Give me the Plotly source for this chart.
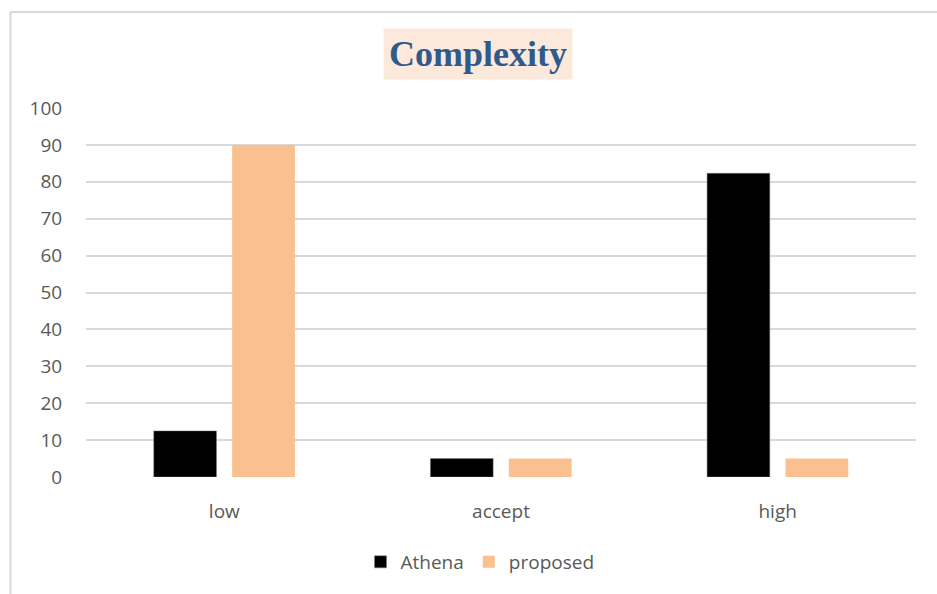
import plotly.graph_objects as go

categories = ["low", "accept", "high"]
athena = [12.5, 5, 82.3]
proposed = [90, 5, 5]
y_ticks = [0, 10, 20, 30, 40, 50, 60, 70, 80, 90, 100]

W, H = 937, 594
L, R, T, B = 86, 21, 108, 117

fig = go.Figure()
fig.add_trace(go.Bar(x=categories, y=athena, name="Athena",
                     marker=dict(color="#000000", line=dict(color="#7f7f7f", width=0.5))))
fig.add_trace(go.Bar(x=categories, y=proposed, name="proposed",
                     marker=dict(color="#FAC090", line=dict(width=0))))

pw = W - L - R
ph = H - T - B
def px_x(px):
    return (px - L) / pw
def px_y(py):
    return (H - B - py) / ph

fig.update_layout(
    width=W, height=H,
    margin=dict(l=L, r=R, t=T, b=B),
    paper_bgcolor="white", plot_bgcolor="white",
    barmode="group", bargap=0.433, bargroupgap=0.2,
    font=dict(family="Open Sans, Liberation Sans, sans-serif", size=19, color="#595959"),
    showlegend=True,
    legend=dict(orientation="h", x=px_x(480), xanchor="center", y=px_y(562), yanchor="middle",
                font=dict(size=19, color="#595959"), itemwidth=30, traceorder="normal",
                tracegroupgap=0),
    xaxis=dict(showgrid=False, zeroline=False, showline=False, ticks="outside", ticklen=17,
               tickcolor="rgba(0,0,0,0)", tickfont=dict(size=19, color="#595959")),
    yaxis=dict(range=[0, 100], tickvals=y_ticks, showgrid=True, gridcolor="#D9D9D9", gridwidth=2,
               zeroline=False, showline=False, ticks="outside", ticklen=19,
               tickcolor="rgba(0,0,0,0)", tickfont=dict(size=19, color="#595959")),
    annotations=[dict(text="<b>Complexity</b>", x=px_x(478), y=px_y(54), xref="paper", yref="paper",
                      xanchor="center", yanchor="middle", showarrow=False,
                      font=dict(family="Liberation Serif, Times New Roman, serif", size=36, color="#2F5B8C"),
                      bgcolor="#FCE9DC", borderpad=5)],
    shapes=[
        dict(type="line", xref="paper", yref="paper", x0=px_x(10.5), x1=px_x(10.5), y0=px_y(600), y1=px_y(12),
             line=dict(color="#D9D9D9", width=2)),
        dict(type="line", xref="paper", yref="paper", x0=px_x(10.5), x1=px_x(945), y0=px_y(12), y1=px_y(12),
             line=dict(color="#D9D9D9", width=2)),
    ],
)

fig.write_html("out.html")
